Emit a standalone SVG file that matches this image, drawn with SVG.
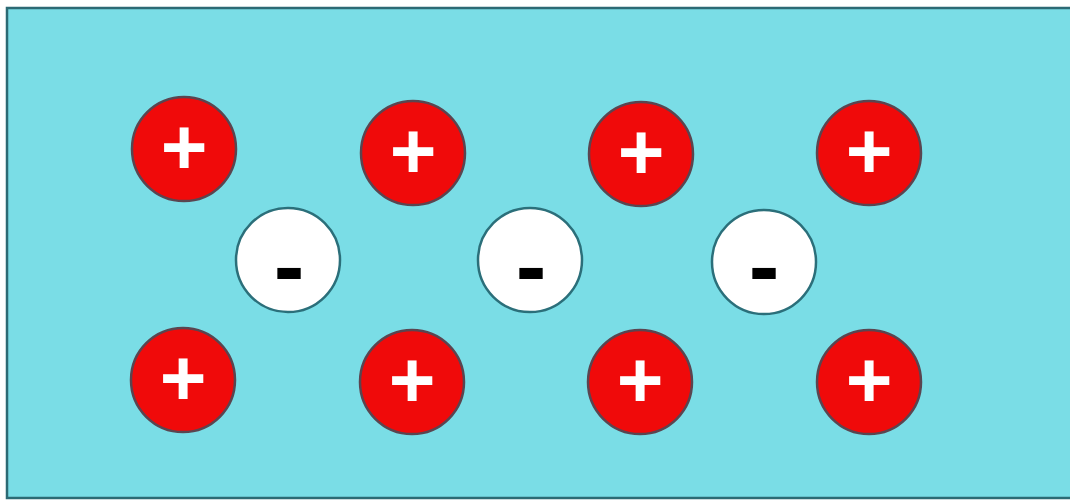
<svg xmlns="http://www.w3.org/2000/svg" width="1070" height="501" viewBox="0 0 1070 501">
<style>
.pos circle{fill:#f00a0a;stroke:#5a4550;stroke-width:2.5}
.pos text{fill:#ffffff;font-family:"Liberation Sans",Arial,sans-serif;font-weight:bold;font-size:80px;text-anchor:middle}
.neg circle{fill:#ffffff;stroke:#2b6f7a;stroke-width:2.5}
.neg text{fill:#000000;font-family:"Liberation Sans",Arial,sans-serif;font-weight:bold;font-size:92px;text-anchor:middle}
</style>
<rect x="7" y="8" width="1075" height="490" fill="#7adde6" stroke="#2c6a74" stroke-width="2.5"/>
<g id="p1" class="pos"><circle cx="184" cy="149" r="52"/><text x="184" y="174">+</text></g>
<g id="p2" class="pos"><circle cx="413" cy="153" r="52"/><text x="413" y="178">+</text></g>
<g id="p3" class="pos"><circle cx="641" cy="154" r="52"/><text x="641" y="179">+</text></g>
<g id="p4" class="pos"><circle cx="869" cy="153" r="52"/><text x="869" y="178">+</text></g>
<g id="p5" class="pos"><circle cx="183" cy="380" r="52"/><text x="183" y="405">+</text></g>
<g id="p6" class="pos"><circle cx="412" cy="382" r="52"/><text x="412" y="407">+</text></g>
<g id="p7" class="pos"><circle cx="640" cy="382" r="52"/><text x="640" y="407">+</text></g>
<g id="p8" class="pos"><circle cx="869" cy="382" r="52"/><text x="869" y="407">+</text></g>
<g id="n1" class="neg"><circle cx="288" cy="260" r="52"/><text x="289" y="298">-</text></g>
<g id="n2" class="neg"><circle cx="530" cy="260" r="52"/><text x="531" y="298">-</text></g>
<g id="n3" class="neg"><circle cx="764" cy="262" r="52"/><text x="764" y="298">-</text></g>
</svg>
